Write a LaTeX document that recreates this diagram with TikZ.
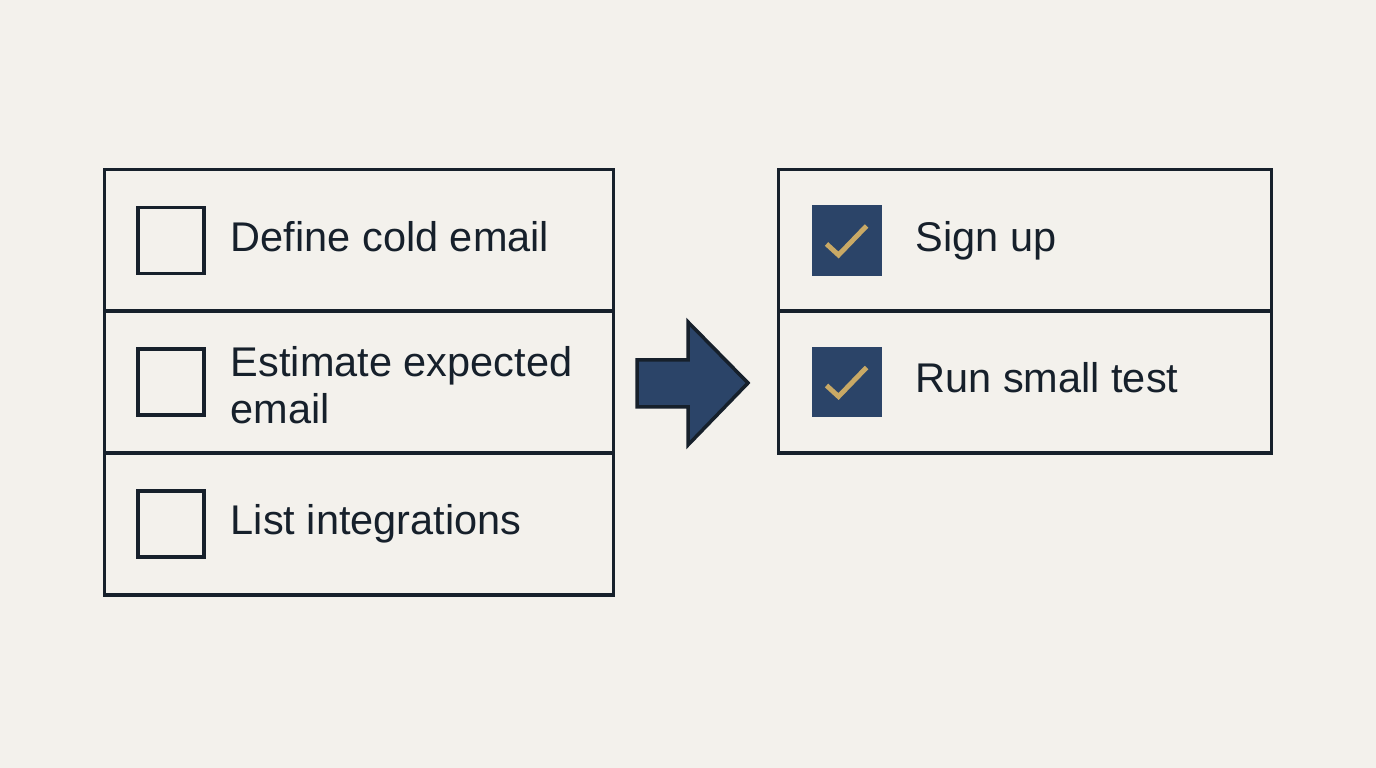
\documentclass[tikz,border=0pt]{standalone}
\usepackage{fontspec}
\setmainfont{Liberation Sans}
\usetikzlibrary{positioning}
\definecolor{paper}{HTML}{F3F1EC}
\definecolor{ink}{HTML}{16202B}
\definecolor{navy}{HTML}{2B4468}
\definecolor{gold}{HTML}{C9A965}
\begin{document}
\begin{tikzpicture}[x=0.01cm,y=-0.01cm,font=\fontsize{11.8pt}{13.4pt}\selectfont,
    row/.style={draw=ink,line width=0.9pt,minimum height=1.42cm,inner sep=0pt},
    todo/.style={draw=ink,line width=1.1pt,minimum size=0.66cm,inner sep=0pt},
    done/.style={fill=navy,minimum size=0.70cm,inner sep=0pt},
    item/.style={text=ink,align=left,inner sep=0pt,text height=0.30cm,text depth=0.08cm},
    twoline/.style={text height=,text depth=,yshift=-0.03cm}]
    \fill[paper] (0,0) rectangle (1376,768);
    \useasboundingbox (0,0) rectangle (1376,768);
    % left list
    \foreach \i/\y/\t/\o in {1/240.5/Define cold email/{},2/382/{Estimate expected\\email}/twoline,3/524/List integrations/{}}{
        \node[row,minimum width=5.08cm] (l\i) at (359,\y) {};
        \node[todo,right=0.33cm of l\i.west] (b\i) {};
        \node[item,right=0.24cm of b\i,\o] (t\i) {\t};
    }
    % right list
    \foreach \i/\y/\t in {1/240.5/Sign up,2/382/Run small test}{
        \node[row,minimum width=4.92cm] (r\i) at (1025,\y) {};
        \node[done,right=0.34cm of r\i.west] (c\i) {};
        \draw[gold,line width=1.4pt] ([shift={(-0.205cm,-0.035cm)}]c\i.center) -- ([shift={(-0.085cm,-0.145cm)}]c\i.center) -- ([shift={(0.195cm,0.145cm)}]c\i.center);
        \node[item,right=0.32cm of c\i] (s\i) {\t};
    }
    % block arrow
    \draw[ink,fill=navy,line width=1pt] (637,360) -- (688,360) -- (688,322) -- (748,383) -- (688,445) -- (688,407) -- (637,407) -- cycle;
\end{tikzpicture}
\end{document}
